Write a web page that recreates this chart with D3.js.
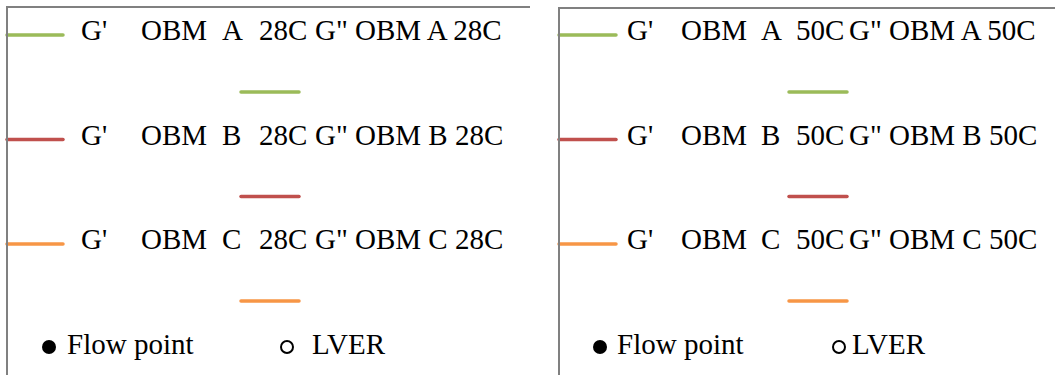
<!DOCTYPE html>
<html>
<head>
<meta charset="utf-8">
<script src="https://cdn.jsdelivr.net/npm/d3@7"></script>
<style>
  html, body { margin: 0; padding: 0; background: #fff; }
  svg { display: block; }
</style>
</head>
<body>
<svg id="chart" width="1055" height="375"></svg>
<script>
// Legend content
const temperatures = ["28C", "50C"];
const fluids = ["A", "B", "C"];
const fluidColors = ["#9BBB59", "#C0504D", "#F79646"];
const modulusLabels = ["G'", "G\""];
const pointMarkers = ["Flow point", "LVER"];

const FONT = "'Liberation Serif', 'Times New Roman', Tinos, serif";
const FONT_SIZE = 29;

const svg = d3.select("#chart")
  .attr("font-family", FONT)
  .attr("font-size", FONT_SIZE);
const H = 375;

// Panel layout (one legend box per temperature)
const panelLayout = [
  { left: 7, top: 7, right: 530, lineA: [7, 63], textX: 81, words: [0, 60, 141, 178, 234], lineB: [241, 299], dots: [[49, 67], [287, 312]] },
  { left: 559, top: 8, right: 1056, lineA: [559, 616], textX: 627, words: [0, 54, 134, 169, 222], lineB: [789, 847], dots: [[600, 617], [839, 852]] }
];

const rowY = d3.scaleLinear().domain([0, fluids.length - 1]).range([35, 244]);
const subOffset = 57;
const markerY = 347;

temperatures.forEach((temp, p) => {
  const L = panelLayout[p];
  const g = svg.append("g");

  fluids.forEach((fluid, i) => {
    const y = rowY(i);
    const col = fluidColors[i];
    // G' swatch
    g.append("line")
      .attr("x1", L.lineA[0]).attr("x2", L.lineA[1])
      .attr("y1", y).attr("y2", y)
      .attr("stroke", col).attr("stroke-width", 3.5).attr("stroke-linecap", "round");
    // G'' swatch
    g.append("line")
      .attr("x1", L.lineB[0]).attr("x2", L.lineB[1])
      .attr("y1", y + subOffset).attr("y2", y + subOffset)
      .attr("stroke", col).attr("stroke-width", 3.5).attr("stroke-linecap", "round");

    const t = g.append("text").attr("y", y + 5)
      .attr("font-family", FONT).attr("font-size", FONT_SIZE).attr("fill", "#000");
    const parts = [modulusLabels[0], "OBM", fluid, temp, `${modulusLabels[1]} OBM ${fluid} ${temp}`];
    parts.forEach((s, k) => {
      t.append("tspan").attr("x", L.textX + L.words[k]).text(s);
    });
  });

  // Point-type markers
  pointMarkers.forEach((m, k) => {
    const [cx, tx] = L.dots[k];
    const c = g.append("circle").attr("cx", cx).attr("cy", markerY);
    if (k === 0) c.attr("r", 7).attr("fill", "#000");
    else c.attr("r", 6).attr("fill", "#fff").attr("stroke", "#000").attr("stroke-width", 2);
    g.append("text").attr("x", tx).attr("y", markerY + 7)
      .attr("font-family", FONT).attr("font-size", FONT_SIZE).attr("fill", "#000")
      .text(m);
  });

  // Box frame (top and left edges visible)
  g.append("path")
    .attr("d", `M${L.left},${H + 2} L${L.left},${L.top} L${L.right},${L.top}`)
    .attr("fill", "none").attr("stroke", "#808080").attr("stroke-width", 2);
});
</script>
</body>
</html>
